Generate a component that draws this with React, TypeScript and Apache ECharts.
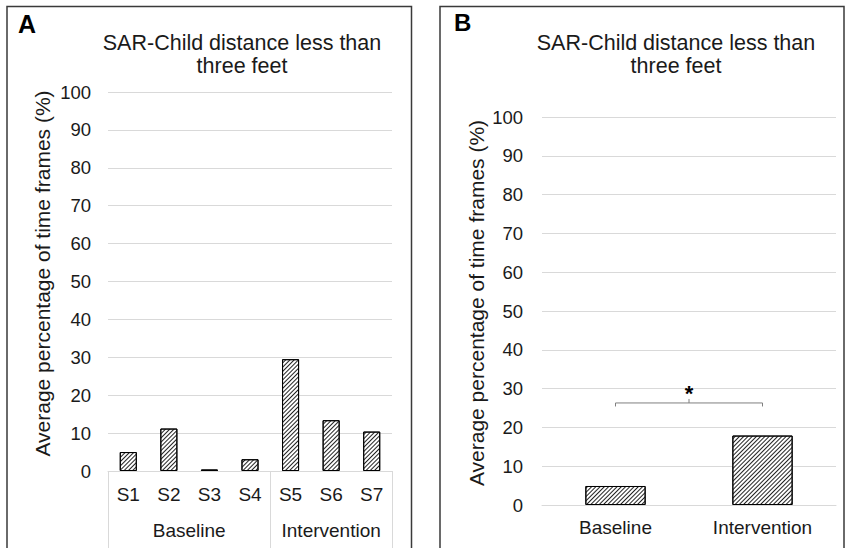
import React, { useEffect, useRef } from "react";
import * as echarts from "echarts";

// ---- Data ----
const panelACategories = ["S1", "S2", "S3", "S4", "S5", "S6", "S7"];
const panelAValues = [5.0, 11.2, 0.4, 3.1, 29.5, 13.4, 10.4];
const panelAGroups = ["Baseline", "Intervention"];
const panelAGroupSizes = [4, 3];
const panelBCategories = ["Baseline", "Intervention"];
const panelBValues = [4.9, 17.9];
const significanceLevel = [26.3];
const significanceMark = ["*"];
const chartTitle = "SAR-Child distance less than\nthree feet";
const yAxisName = "Average percentage of time frames (%)";
const panelLetters = ["A", "B"];
const yMin = 0;
const yMax = 100;
const yInterval = 10;

const FONT = "'Liberation Sans', Arial, sans-serif";
const TEXT = "#1a1a1a";
const GRID = "#d9d9d9";

export default function App() {
  const ref = useRef<HTMLDivElement>(null);

  useEffect(() => {
    if (!ref.current) return;
    const chart = echarts.init(ref.current, undefined, { renderer: "svg" });

    // group boundaries and centers for the two-level axis
    const boundaries: number[] = [0];
    const centers: number[] = [];
    let acc = 0;
    panelAGroupSizes.forEach((s) => {
      centers.push(acc + s / 2);
      acc += s;
      boundaries.push(acc);
    });

    const hatch = {
      symbol: "rect",
      symbolSize: 1,
      dashArrayX: [1, 0],
      dashArrayY: [1, 2],
      rotation: -Math.PI / 4,
      color: "#222",
    };

    const yAxisCommon = (gridIndex: number, margin: number) => ({
      gridIndex,
      type: "value",
      min: yMin,
      max: yMax,
      interval: yInterval,
      name: yAxisName,
      nameLocation: "middle",
      nameRotate: 90,
      nameGap: 55,
      nameTextStyle: { fontFamily: FONT, fontSize: 21, color: TEXT, padding: [0, 0, 0, 16] },
      axisLine: { show: false },
      axisTick: { show: false },
      axisLabel: { fontFamily: FONT, fontSize: 18.5, color: TEXT, margin },
      splitLine: { show: true, lineStyle: { color: GRID, width: 1 } },
    });

    const titleStyle = { fontFamily: FONT, fontSize: 21.5, fontWeight: "normal", color: TEXT, lineHeight: 23 };

    const option: any = {
      animation: false,
      aria: { enabled: true, decal: { show: true } },
      title: [
        { text: chartTitle, left: 237, top: 26, textAlign: "center", textStyle: titleStyle },
        { text: chartTitle, left: 671, top: 26, textAlign: "center", textStyle: titleStyle },
      ],
      grid: [
        { left: 108, top: 92, width: 284, height: 379 },
        { left: 542, top: 117, width: 294, height: 388 },
      ],
      xAxis: [
        {
          gridIndex: 0,
          type: "category",
          position: "bottom",
          data: panelACategories,
          axisLine: { show: true, lineStyle: { color: GRID, width: 1 } },
          axisTick: { show: false },
          axisLabel: { fontFamily: FONT, fontSize: 19, color: TEXT, margin: 14 },
        },
        {
          gridIndex: 0,
          type: "value",
          position: "bottom",
          min: 0,
          max: panelACategories.length,
          axisLine: { show: false },
          splitLine: { show: false },
          axisTick: {
            show: true,
            customValues: boundaries,
            length: 90,
            lineStyle: { color: GRID, width: 1 },
          },
          axisLabel: {
            customValues: centers,
            fontFamily: FONT,
            fontSize: 19,
            color: TEXT,
            margin: 50,
            formatter: (v: number) => {
              const i = centers.findIndex((c) => Math.abs(c - v) < 1e-6);
              return i >= 0 ? panelAGroups[i] : "";
            },
          },
        },
        {
          gridIndex: 1,
          type: "category",
          position: "bottom",
          data: panelBCategories,
          axisLine: { show: true, lineStyle: { color: GRID, width: 1 } },
          axisTick: { show: false },
          axisLabel: { fontFamily: FONT, fontSize: 19, color: TEXT, margin: 13 },
        },
      ],
      yAxis: [yAxisCommon(0, 17), yAxisCommon(1, 19)],
      series: [
        {
          type: "bar",
          xAxisIndex: 0,
          yAxisIndex: 0,
          data: panelAValues,
          barWidth: "42%",
          itemStyle: { color: "#fff", borderColor: "#000", borderWidth: 1, decal: hatch },
        },
        {
          type: "bar",
          xAxisIndex: 2,
          yAxisIndex: 1,
          data: panelBValues,
          barWidth: "41%",
          itemStyle: { color: "#fff", borderColor: "#000", borderWidth: 1, decal: hatch },
        },
        {
          type: "custom",
          xAxisIndex: 2,
          yAxisIndex: 1,
          data: [[0, panelBCategories.length - 1, significanceLevel[0]]],
          encode: { x: [0, 1], y: 2 },
          renderItem: (params: any, api: any) => {
            const a = api.coord([api.value(0), api.value(2)]);
            const b = api.coord([api.value(1), api.value(2)]);
            const y = a[1];
            const mid = (a[0] + b[0]) / 2;
            return {
              type: "group",
              children: [
                {
                  type: "polyline",
                  shape: { points: [[a[0], y + 3.5], [a[0], y], [b[0], y], [b[0], y + 3.5]] },
                  style: { stroke: "#7f7f7f", lineWidth: 1, fill: "none" },
                },
                {
                  type: "line",
                  shape: { x1: mid, y1: y, x2: mid, y2: y - 4 },
                  style: { stroke: "#7f7f7f", lineWidth: 1 },
                },
                {
                  type: "text",
                  x: mid,
                  y: y + 2,
                  style: {
                    text: significanceMark[0],
                    fontFamily: FONT,
                    fontSize: 22,
                    fontWeight: "bold",
                    fill: "#000",
                    align: "center",
                    verticalAlign: "bottom",
                  },
                },
              ],
            };
          },
        },
      ],
      graphic: [
        {
          type: "rect",
          shape: { x: 7, y: 6.5, width: 404.5, height: 600 },
          style: { fill: "none", stroke: "#3a3a3a", lineWidth: 1.5 },
          silent: true,
        },
        {
          type: "rect",
          shape: { x: 440, y: 6.5, width: 404, height: 600 },
          style: { fill: "none", stroke: "#3a3a3a", lineWidth: 1.5 },
          silent: true,
        },
        {
          type: "text",
          left: 18,
          top: 11,
          style: { text: panelLetters[0], fontFamily: FONT, fontSize: 25, fontWeight: "bold", fill: "#000" },
        },
        {
          type: "text",
          left: 454,
          top: 10,
          style: { text: panelLetters[1], fontFamily: FONT, fontSize: 24, fontWeight: "bold", fill: "#000" },
        },
      ],
    };

    chart.setOption(option);
    return () => chart.dispose();
  }, []);

  return (
    <div
      ref={ref}
      style={{ position: "absolute", left: 0, top: 0, width: 845, height: 548, background: "#fff" }}
    />
  );
}
